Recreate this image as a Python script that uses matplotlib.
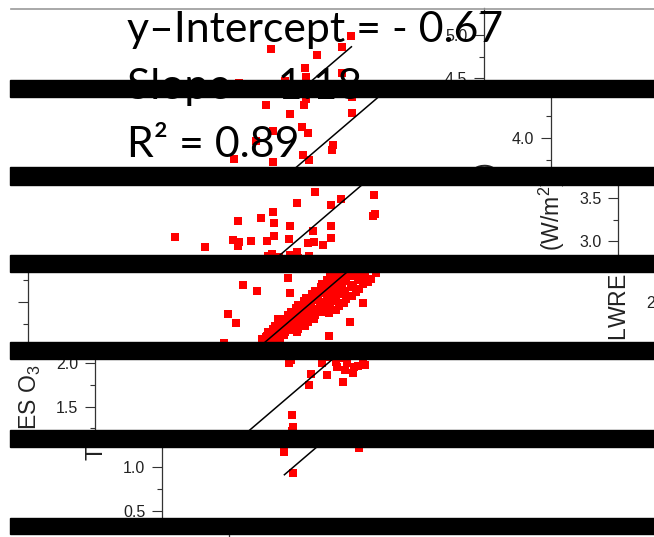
import matplotlib
matplotlib.use("Agg")
import matplotlib.pyplot as plt
from matplotlib.patches import Rectangle
from matplotlib.lines import Line2D
from matplotlib.ticker import MultipleLocator
from matplotlib.transforms import Bbox, TransformedBbox, blended_transform_factory

# regression shown on the slide
slope = 1.18
intercept = -0.67
r_squared = 0.89
fit_x = [1.34, 4.69]

# scatter points (x, y)
obs_x = [4.02, 4.40, 4.61, 4.69, 4.30, 4.31, 4.61,
         3.42, 3.62, 3.74, 3.75, 4.14, 3.72, 3.77, 3.48, 3.34, 3.97, 3.98, 3.73, 3.78, 3.15, 3.48, 4.14,
         3.27, 3.12, 3.40, 3.49, 3.76, 3.75, 3.77, 2.63, 2.82, 2.92, 2.93, 3.06, 3.40, 3.25, 2.10, 2.35,
         2.59, 2.64, 2.63, 2.74, 2.87, 2.93, 3.05, 3.21, 3.26, 3.34, 3.40, 3.12, 2.91,
         2.11, 2.23, 1.99, 2.05, 3.11, 3.00, 2.83, 2.30, 2.49, 2.50, 2.40, 1.95,
         2.88, 2.97, 3.06, 3.13, 3.22, 2.84, 2.95, 3.01, 3.11, 3.18, 2.81, 2.90, 2.97, 3.07, 3.15,
         2.77, 2.88, 2.94, 3.03, 3.11, 2.76, 2.83, 2.91, 3.01, 3.08, 2.71, 2.81, 2.88, 2.96, 3.05,
         2.69, 2.76, 2.86, 2.93, 3.02, 2.64, 2.74, 2.81, 2.89, 2.97, 2.62, 2.70, 2.79, 2.86, 2.95,
         2.57, 2.68, 2.75, 2.84, 2.91, 2.55, 2.64, 2.72, 2.79, 2.89, 2.51, 2.61, 2.68, 2.77, 2.83,
         2.49, 2.56, 2.65, 2.71, 2.44, 2.54, 2.60, 2.70, 2.43, 2.50, 2.59, 2.65, 2.38, 2.47, 2.53, 2.63,
         2.36, 2.44, 2.52, 2.57, 2.32, 2.41, 2.46, 2.56, 2.31, 2.37, 2.45, 2.27, 2.35, 2.42,
         1.94, 2.12, 2.10, 2.25, 2.21, 2.34, 2.39, 2.47, 2.55, 2.42, 2.51, 1.96, 1.97,
         2.33, 2.48, 2.57, 2.40,
         1.34, 1.41, 1.96]
obs_y = [4.84, 4.77, 4.86, 4.99, 4.62, 4.52, 4.56,
         4.38, 4.28, 4.38, 4.45, 4.29, 4.13, 4.06, 4.08, 3.97, 3.86, 3.92, 3.80, 3.75, 3.76, 3.72, 4.47,
         3.57, 3.44, 3.42, 3.49, 3.53, 3.29, 3.32, 3.24, 3.27, 3.34, 3.21, 3.18, 3.18, 3.12, 3.05, 2.94,
         3.02, 2.99, 2.95, 3.00, 3.00, 3.06, 3.03, 2.98, 2.99, 2.96, 3.04, 2.88, 2.86,
         2.70, 2.63, 2.36, 2.26, 2.49, 2.27, 2.11, 2.10, 2.78, 2.60, 2.30, 2.03,
         2.83, 2.82, 2.84, 2.81, 2.83, 2.79, 2.78, 2.80, 2.79, 2.77, 2.75, 2.76, 2.74, 2.75, 2.73,
         2.71, 2.70, 2.72, 2.70, 2.71, 2.67, 2.68, 2.66, 2.67, 2.65, 2.63, 2.62, 2.64, 2.63, 2.61,
         2.59, 2.60, 2.58, 2.59, 2.57, 2.55, 2.54, 2.56, 2.55, 2.53, 2.51, 2.52, 2.50, 2.51, 2.49,
         2.47, 2.46, 2.48, 2.47, 2.45, 2.43, 2.44, 2.42, 2.43, 2.41, 2.39, 2.38, 2.40, 2.39, 2.37,
         2.35, 2.36, 2.34, 2.35, 2.31, 2.30, 2.32, 2.31, 2.27, 2.28, 2.26, 2.27, 2.23, 2.22, 2.24, 2.23,
         2.19, 2.20, 2.18, 2.19, 2.15, 2.14, 2.16, 2.15, 2.11, 2.10, 2.12, 2.07, 2.06, 2.08,
         2.00, 1.87, 1.75, 1.86, 2.00, 1.95, 1.78, 1.89, 2.00, 2.00, 1.97, 1.40, 1.26,
         2.01, 1.95, 1.98, 1.92,
         1.17, 0.93, 1.22]

x_range = (0.32, 5.32)
y_label = r'TES O$_3$ LWRE (W/m$^2$)'
label_start = 1.07

# the slide shows the chart torn into horizontal strips, each shifted sideways
W, H = 654, 537
strip_rows = [(8, 80), (97, 167), (185, 255), (272, 342), (359, 430), (447, 518), (534, 537)]
strip_tops = [5.31, 4.471, 3.649, 2.845, 2.046, 1.230, 0.414]
bar_rows = [(80, 97), (167, 185), (255, 272), (342, 359), (430, 447), (518, 534)]
px_per_unit = 87
spine0, step, wrap, ax_w = 484, 67, 657, 600

plt.rcParams['mathtext.fontset'] = 'custom'
plt.rcParams['mathtext.rm'] = 'Liberation Sans'
plt.rcParams['mathtext.it'] = 'Liberation Sans:italic'
plt.rcParams['font.family'] = 'Liberation Sans'

fig = plt.figure(figsize=(W / 100, H / 100), dpi=100)
fig.patch.set_facecolor('white')

fit_y = [slope * x + intercept for x in fit_x]

for i, (r0, r1) in enumerate(strip_rows):
    top = strip_tops[i]
    bottom = top - (r1 - r0) / px_per_unit
    spine = (spine0 + step * i) % wrap
    for k in (-1, 0, 1):
        left = spine + k * wrap
        if left + ax_w < 0 or left - 100 > W:
            continue
        ax = fig.add_axes([left / W, 1 - r1 / H, ax_w / W, (r1 - r0) / H])
        ax.set_xlim(*x_range)
        ax.set_ylim(bottom, top)
        ax.patch.set_visible(False)
        for side in ['top', 'right', 'bottom']:
            ax.spines[side].set_visible(False)
        ax.spines['left'].set_color('#333333')
        ax.spines['left'].set_linewidth(0.9)
        ax.xaxis.set_visible(False)
        ax.yaxis.set_major_locator(MultipleLocator(0.5))
        ax.yaxis.set_minor_locator(MultipleLocator(0.25))
        ax.yaxis.set_major_formatter('{x:.1f}')
        ax.tick_params(axis='y', which='major', direction='out', length=7, width=0.8,
                       pad=5, labelsize=11.5, color='#333333', labelcolor='#222222')
        ax.tick_params(axis='y', which='minor', direction='out', length=3.5, width=0.8,
                       color='#333333')

        ax.plot(fit_x, fit_y, color='black', lw=1.1, zorder=3)
        ax.plot(obs_x, obs_y, 's', color='#ff0000', ms=5.8, mew=0, zorder=2)

        # y label, cut to this strip
        tr = blended_transform_factory(ax.transAxes, ax.transData)
        t = fig.text(-66 / ax_w, label_start, y_label, transform=tr, rotation=90,
                     ha='center', va='bottom', fontsize=16.6, color='#222222')
        t.set_clip_box(TransformedBbox(Bbox.from_extents(0, 1 - r1 / H, 1, 1 - r0 / H),
                                       fig.transFigure))
        t.set_clip_on(True)

# slide text over the chart
stats = ['y–Intercept = - %.2f' % abs(intercept), 'Slope = %.2f' % slope,
         'R² = %.2f' % r_squared]
for j, s in enumerate(stats):
    fig.text(127 / W, 1 - (42 + 57.5 * j) / H, s, fontsize=30.8, family='Lato',
             ha='left', va='baseline', color='black', zorder=5)

# black bars and frame line
fig.add_artist(Rectangle((0, 0), 10 / W, 1, transform=fig.transFigure,
                         color='white', zorder=9))
for b0, b1 in bar_rows:
    fig.add_artist(Rectangle((10 / W, 1 - b1 / H), 1, (b1 - b0) / H,
                             transform=fig.transFigure, color='black', zorder=10))
fig.add_artist(Line2D([11 / W, 1], [1 - 9 / H, 1 - 9 / H], transform=fig.transFigure,
                      color='#999999', lw=1.2, zorder=10))

fig.savefig('out.png', dpi=100)
